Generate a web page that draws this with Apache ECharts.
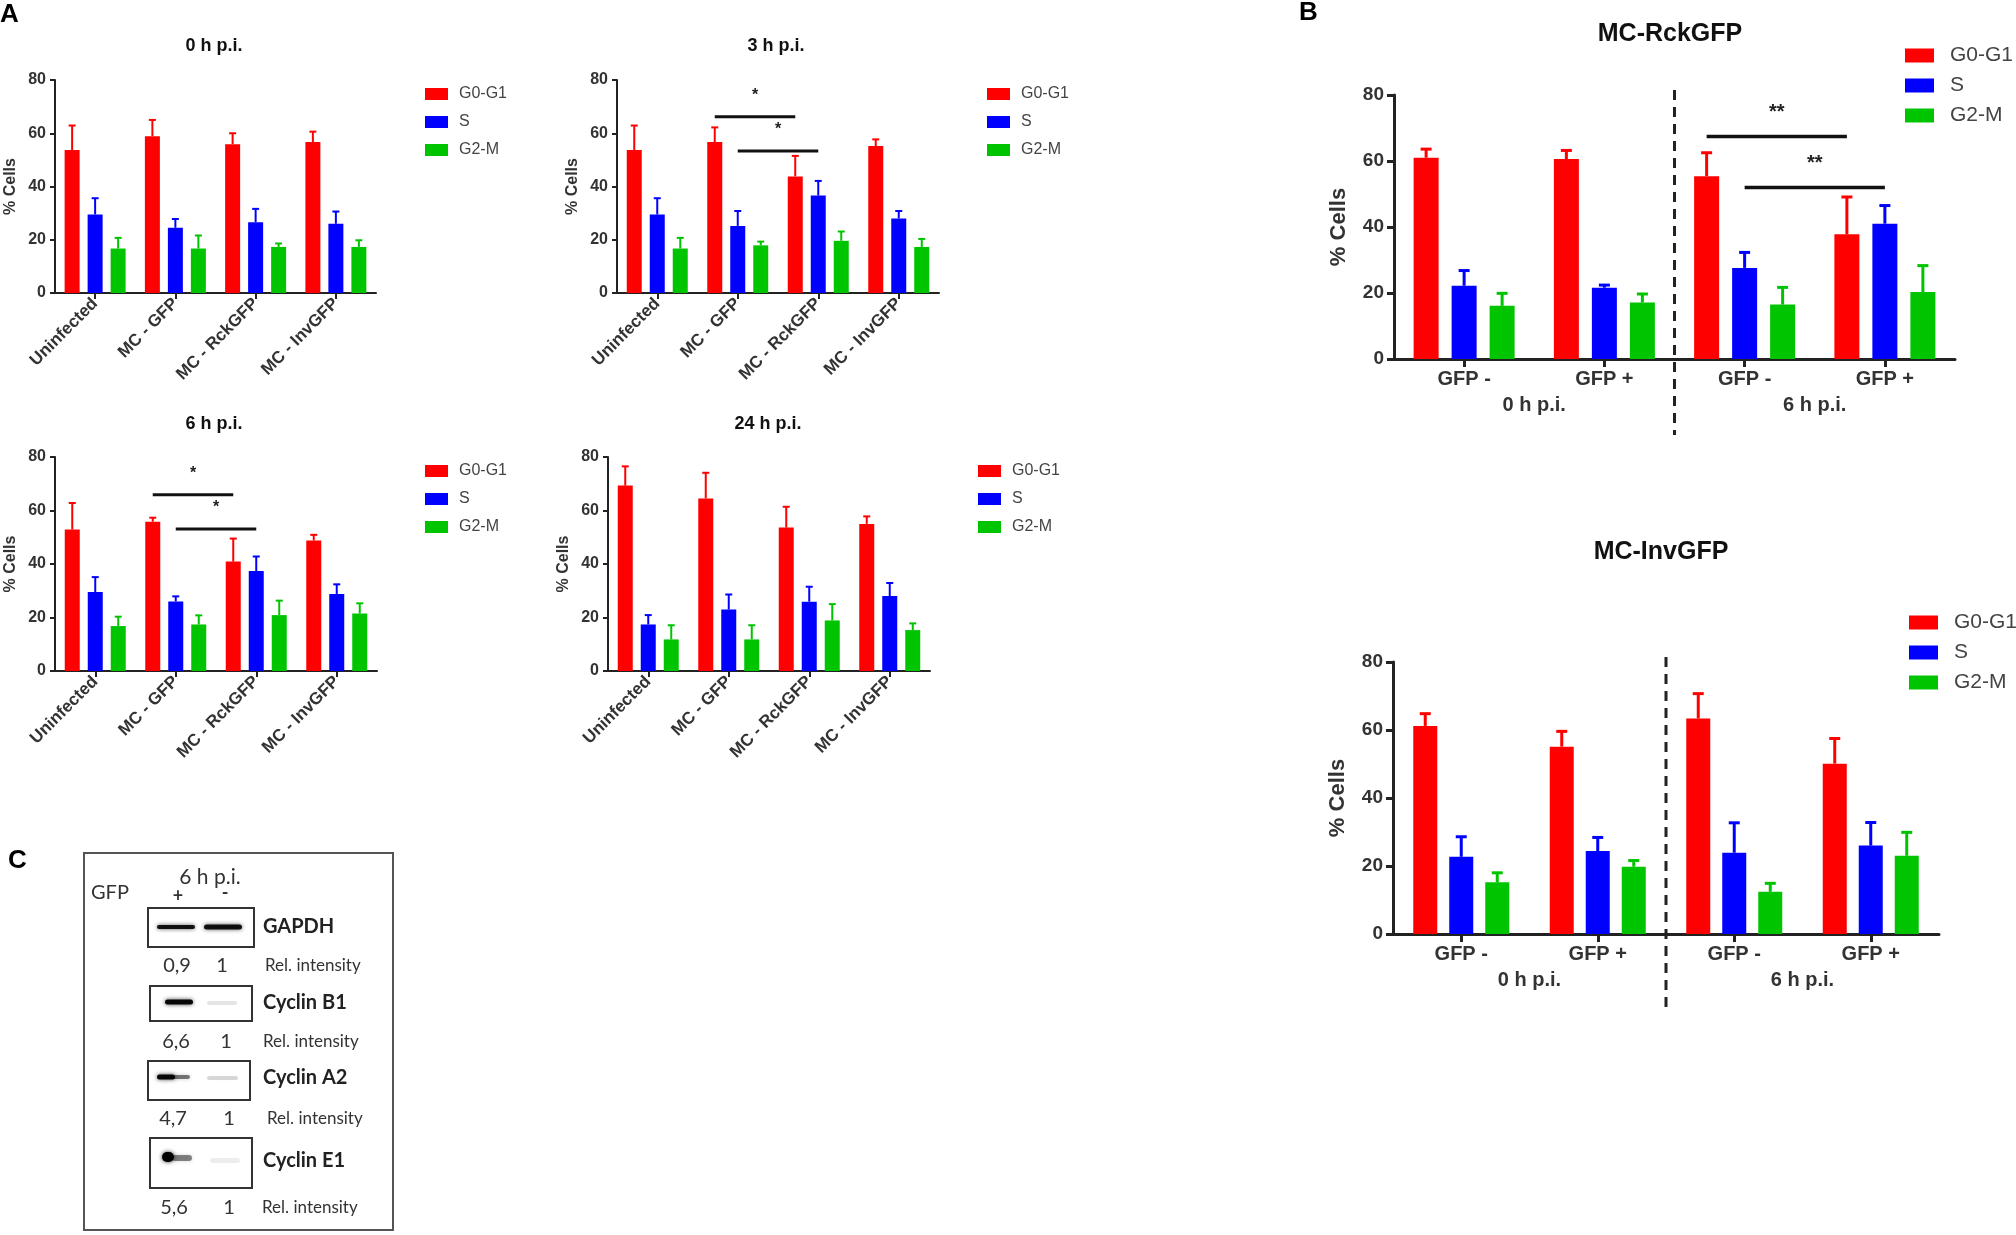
<!DOCTYPE html>
<html>
<head>
<meta charset="utf-8">
<script src="https://cdn.jsdelivr.net/npm/echarts@6/dist/echarts.min.js"></script>
<style>
html,body{margin:0;padding:0;background:#fff;}
#chart{width:2016px;height:1235px;}
</style>
</head>
<body>
<div id="chart"></div>
<script>
// ---------------- DATA ----------------
const phases = ['G0-G1', 'S', 'G2-M'];
const groupsA = ['Uninfected', 'MC - GFP', 'MC - RckGFP', 'MC - InvGFP'];
const groupsB = ['GFP -', 'GFP +', 'GFP -', 'GFP +'];
const timesB = ['0 h p.i.', '6 h p.i.'];
const yMin = 0, yMax = 80, yStep = 20;

// Panel A, 0 h p.i. (mean, SD)
const h0G0G1 = [53.7, 58.9, 55.9, 56.7];   const h0G0G1sd = [9.2, 6.1, 4.1, 3.9];
const h0S    = [29.5, 24.5, 26.6, 26.0];   const h0Ssd    = [6.1, 3.3, 5.0, 4.6];
const h0G2M  = [16.7, 16.7, 17.3, 17.3];   const h0G2Msd  = [4.0, 4.9, 1.3, 2.5];
// Panel A, 3 h p.i.
const h3G0G1 = [53.7, 56.7, 43.8, 55.2];   const h3G0G1sd = [9.2, 5.5, 7.7, 2.5];
const h3S    = [29.5, 25.2, 36.6, 28.0];   const h3Ssd    = [6.1, 5.6, 5.5, 2.8];
const h3G2M  = [16.7, 17.9, 19.6, 17.3];   const h3G2Msd  = [4.0, 1.4, 3.5, 3.0];
// Panel A, 6 h p.i.
const h6G0G1 = [52.9, 55.8, 40.9, 48.8];   const h6G0G1sd = [9.9, 1.5, 8.6, 2.1];
const h6S    = [29.5, 26.0, 37.4, 28.8];   const h6Ssd    = [5.6, 1.9, 5.4, 3.6];
const h6G2M  = [16.8, 17.4, 20.9, 21.5];   const h6G2Msd  = [3.5, 3.4, 5.4, 3.8];
// Panel A, 24 h p.i.
const h24G0G1 = [69.3, 64.5, 53.6, 55.0];  const h24G0G1sd = [7.2, 9.6, 7.8, 2.8];
const h24S    = [17.4, 23.0, 25.9, 28.0];  const h24Ssd    = [3.5, 5.6, 5.6, 4.9];
const h24G2M  = [11.8, 11.8, 18.9, 15.3];  const h24G2Msd  = [5.3, 5.3, 6.1, 2.5];
// Panel B, MC-RckGFP
const rckG0G1 = [61.0, 60.6, 55.4, 37.8];  const rckG0G1sd = [2.6, 2.6, 7.1, 11.3];
const rckS    = [22.2, 21.6, 27.6, 41.0];  const rckSsd    = [4.6, 0.8, 4.7, 5.5];
const rckG2M  = [16.1, 17.1, 16.5, 20.3];  const rckG2Msd  = [3.8, 2.6, 5.2, 8.0];
// Panel B, MC-InvGFP
const invG0G1 = [61.2, 55.1, 63.4, 50.1];  const invG0G1sd = [3.6, 4.5, 7.3, 7.4];
const invS    = [22.7, 24.4, 23.9, 26.0];  const invSsd    = [5.9, 4.0, 8.8, 6.8];
const invG2M  = [15.2, 19.8, 12.4, 23.0];  const invG2Msd  = [2.8, 1.8, 2.5, 6.9];

// Significance brackets: [fromGroup, toGroup, phaseIndex, yLevel]
const sig3h = [[1, 2, 0, 66.2], [1, 2, 1, 53.3]];   const sig3hLabels = ['*', '*'];
const sig6h = [[1, 2, 0, 65.9], [1, 2, 1, 53.1]];   const sig6hLabels = ['*', '*'];
const sigRck = [[2, 3, 0, 67.4], [2, 3, 1, 52.0]];  const sigRckLabels = ['**', '**'];
// Divider between group index 1 and 2 (0 h | 6 h)
const dividerB = [[1, 2]];

// Panel C (western blot)
const blotNames = ['GAPDH', 'Cyclin B1', 'Cyclin A2', 'Cyclin E1'];
const relPlus = ['0,9', '6,6', '4,7', '5,6'];
const relMinus = ['1', '1', '1', '1'];
const relText = 'Rel. intensity';

// ---------------- STYLE / LAYOUT ----------------
const FONT = '"Liberation Sans", Arial, sans-serif';
const CFONT = 'Lato, "Open Sans", sans-serif';
const COLORS = ['#ff0000', '#0000ff', '#00c400'];
const AX = '#222';
const TXT = '#333';

const styleA = {bw: 15, gap: 8, axisW: 2, tickLen: 6, tickFont: 16, catFont: 17, nameFont: 16, nameGap: 36,
  titleFont: 18, capW: 7, errW: 2, sigW: 3, starFont: 16, starGap: 21, legendFont: 16, legendW: 23, legendH: 12,
  legendGap: 12, legendPad: 6, yLabelMargin: 9, xLabelMargin: 8};
const styleB = {bw: 25, gap: 13, axisW: 3, tickLen: 8, tickFont: 19, catFont: 20, nameFont: 22, nameGap: 44,
  titleFont: 25, capW: 11, errW: 3, sigW: 3.5, starFont: 20, starGap: 24, legendFont: 21, legendW: 29, legendH: 14,
  legendGap: 9, legendPad: 11, yLabelMargin: 10, xLabelMargin: 10, groupMargin: 36, dividerDown: 76};

const panels = [
  {kind: 'A', title: '0 h p.i.', cats: groupsA,
   means: [h0G0G1, h0S, h0G2M], sds: [h0G0G1sd, h0Ssd, h0G2Msd], sig: [], sigLabels: [],
   grid: {left: 55, top: 80, width: 321, height: 213}, titlePos: [214, 37], legendPos: [425, 86]},
  {kind: 'A', title: '3 h p.i.', cats: groupsA,
   means: [h3G0G1, h3S, h3G2M], sds: [h3G0G1sd, h3Ssd, h3G2Msd], sig: sig3h, sigLabels: sig3hLabels,
   grid: {left: 617, top: 80, width: 322, height: 213}, titlePos: [776, 37], legendPos: [987, 86]},
  {kind: 'A', title: '6 h p.i.', cats: groupsA,
   means: [h6G0G1, h6S, h6G2M], sds: [h6G0G1sd, h6Ssd, h6G2Msd], sig: sig6h, sigLabels: sig6hLabels,
   grid: {left: 55, top: 457, width: 322, height: 214}, titlePos: [214, 415], legendPos: [425, 463]},
  {kind: 'A', title: '24 h p.i.', cats: groupsA,
   means: [h24G0G1, h24S, h24G2M], sds: [h24G0G1sd, h24Ssd, h24G2Msd], sig: [], sigLabels: [],
   grid: {left: 608, top: 457, width: 322, height: 214}, titlePos: [768, 415], legendPos: [978, 463]},
  {kind: 'B', title: 'MC-RckGFP', cats: groupsB,
   means: [rckG0G1, rckS, rckG2M], sds: [rckG0G1sd, rckSsd, rckG2Msd], sig: sigRck, sigLabels: sigRckLabels,
   grid: {left: 1394, top: 95, width: 561, height: 264}, titlePos: [1670, 22], legendPos: [1905, 45]},
  {kind: 'B', title: 'MC-InvGFP', cats: groupsB,
   means: [invG0G1, invS, invG2M], sds: [invG0G1sd, invSsd, invG2Msd], sig: [], sigLabels: [],
   grid: {left: 1393, top: 662, width: 546, height: 272}, titlePos: [1661, 540], legendPos: [1909, 612],
   override: {bw: 24, gap: 12}}
];

// ---------------- RENDERERS ----------------
function errRender(st) {
  return function (params, api) {
    const cat = api.value(0), k = api.value(1), m = api.value(2), t = api.value(3);
    const p = api.coord([cat, m]);
    const q = api.coord([cat, t]);
    const x = p[0] + (k - 1) * (st.bw + st.gap);
    const c = COLORS[k];
    return {type: 'group', children: [
      {type: 'line', shape: {x1: x, y1: p[1], x2: x, y2: q[1]}, style: {stroke: c, lineWidth: st.errW}},
      {type: 'line', shape: {x1: x - st.capW / 2, y1: q[1], x2: x + st.capW / 2, y2: q[1]}, style: {stroke: c, lineWidth: st.errW}}
    ]};
  };
}
function sigRender(st, labels) {
  return function (params, api) {
    const a = api.value(0), b = api.value(1), k = api.value(2), y = api.value(3);
    const off = (k - 1) * (st.bw + st.gap);
    const pa = api.coord([a, y]), pb = api.coord([b, y]);
    return {type: 'group', children: [
      {type: 'line', shape: {x1: pa[0] + off, y1: pa[1], x2: pb[0] + off, y2: pb[1]},
       style: {stroke: '#111', lineWidth: st.sigW}},
      {type: 'text', style: {text: labels[params.dataIndex], x: (pa[0] + pb[0]) / 2 + off, y: pa[1] - st.starGap,
        align: 'center', verticalAlign: 'middle', fontFamily: FONT, fontWeight: 'bold', fontSize: st.starFont, fill: '#222'}}
    ]};
  };
}
function dividerRender(st) {
  return function (params, api) {
    const a = api.value(0), b = api.value(1);
    const x = (api.coord([a, yMin])[0] + api.coord([b, yMin])[0]) / 2;
    const yTop = api.coord([a, yMax])[1] - 5;
    const yBot = api.coord([a, yMin])[1] + st.dividerDown;
    return {type: 'line', shape: {x1: x, y1: yTop, x2: x, y2: yBot},
      style: {stroke: AX, lineWidth: 3, lineDash: [10, 7]}};
  };
}

// ---------------- OPTION ----------------
const option = {
  animation: false,
  backgroundColor: '#fff',
  textStyle: {fontFamily: FONT},
  title: [
    {text: 'A', left: 0, top: 2, padding: 0, textStyle: {fontFamily: FONT, fontSize: 26, fontWeight: 'bold', color: '#000'}},
    {text: 'B', left: 1299, top: 0, padding: 0, textStyle: {fontFamily: FONT, fontSize: 26, fontWeight: 'bold', color: '#000'}},
    {text: 'C', left: 8, top: 848, padding: 0, textStyle: {fontFamily: FONT, fontSize: 26, fontWeight: 'bold', color: '#000'}}
  ],
  legend: [], grid: [], xAxis: [], yAxis: [], series: [], graphic: []
};

panels.forEach(function (p) {
  const st = Object.assign({}, p.kind === 'A' ? styleA : styleB, p.override || {});
  const gi = option.grid.length;
  option.grid.push(Object.assign({containLabel: false, outerBoundsMode: 'none'}, p.grid));
  const xi = option.xAxis.length;
  option.xAxis.push({
    type: 'category', gridIndex: gi, data: p.cats, position: 'bottom',
    axisLine: {show: true, lineStyle: {color: AX, width: st.axisW}},
    axisTick: {show: true, alignWithLabel: true, length: st.tickLen, lineStyle: {color: AX, width: st.axisW}},
    axisLabel: p.kind === 'A'
      ? {interval: 0, rotate: 45, margin: st.xLabelMargin, fontFamily: FONT, fontWeight: 'bold', fontSize: st.catFont, color: TXT}
      : {interval: 0, margin: st.xLabelMargin, fontFamily: FONT, fontWeight: 'bold', fontSize: st.catFont, color: TXT},
    splitLine: {show: false}
  });
  if (p.kind === 'B') {
    option.xAxis.push({
      type: 'category', gridIndex: gi, data: timesB, position: 'bottom',
      axisLine: {show: false}, axisTick: {show: false}, splitLine: {show: false},
      axisLabel: {interval: 0, margin: st.groupMargin, fontFamily: FONT, fontWeight: 'bold', fontSize: st.catFont, color: TXT}
    });
  }
  const yi = option.yAxis.length;
  option.yAxis.push({
    type: 'value', gridIndex: gi, min: yMin, max: yMax, interval: yStep,
    name: '% Cells', nameLocation: 'middle', nameGap: st.nameGap, nameRotate: 90,
    nameTextStyle: {fontFamily: FONT, fontWeight: 'bold', fontSize: st.nameFont, color: TXT},
    axisLine: {show: true, lineStyle: {color: AX, width: st.axisW}},
    axisTick: {show: true, length: st.tickLen - 1, lineStyle: {color: AX, width: st.axisW}},
    axisLabel: {margin: st.yLabelMargin, fontFamily: FONT, fontWeight: 'bold', fontSize: st.tickFont, color: TXT},
    splitLine: {show: false}
  });
  phases.forEach(function (ph, k) {
    option.series.push({
      type: 'bar', name: ph, xAxisIndex: xi, yAxisIndex: yi, data: p.means[k],
      barWidth: st.bw, barGap: (st.gap / st.bw * 100).toFixed(1) + '%',
      itemStyle: {color: COLORS[k]}, silent: true
    });
  });
  const errRows = [];
  p.means.forEach(function (arr, k) {
    arr.forEach(function (m, i) { errRows.push([i, k, m, +(m + p.sds[k][i]).toFixed(2)]); });
  });
  option.series.push({type: 'custom', name: 'SD', xAxisIndex: xi, yAxisIndex: yi, data: errRows,
    encode: {x: 0, y: 3}, renderItem: errRender(st), z: 4, silent: true, clip: false});
  if (p.sig.length) {
    option.series.push({type: 'custom', name: 'significance', xAxisIndex: xi, yAxisIndex: yi, data: p.sig,
      encode: {x: 0, y: 3}, renderItem: sigRender(st, p.sigLabels), z: 5, silent: true, clip: false});
  }
  if (p.kind === 'B') {
    option.series.push({type: 'custom', name: 'divider', xAxisIndex: xi, yAxisIndex: yi, data: dividerB,
      encode: {x: 0}, renderItem: dividerRender(st), z: 5, silent: true, clip: false});
  }
  option.title.push({text: p.title, left: p.titlePos[0], top: p.titlePos[1], textAlign: 'center', padding: 0,
    textStyle: {fontFamily: FONT, fontWeight: 'bold', fontSize: st.titleFont, color: '#111'}});
  option.legend.push({
    data: phases, orient: 'vertical', left: p.legendPos[0], top: p.legendPos[1], padding: 0,
    itemWidth: st.legendW, itemHeight: st.legendH, itemGap: st.legendGap, icon: 'rect', selectedMode: false,
    textStyle: {fontFamily: FONT, fontSize: st.legendFont, color: '#444', padding: [0, 0, 0, st.legendPad]}
  });
});

// ---------------- PANEL C (blot) ----------------
const blotLayout = [
  {box: [148, 908, 106, 39], labelY: 927, numY: 966, numX: [177, 222], relX: 265,
   bands: [{x: 157, y: 925, w: 38, h: 4, o: 0.9}, {x: 204, y: 924.5, w: 38, h: 5, o: 0.9}]},
  {box: [150, 986, 102, 35], labelY: 1003, numY: 1042, numX: [176, 226], relX: 263,
   bands: [{x: 165, y: 999.5, w: 28, h: 5, o: 0.95}, {x: 207, y: 1001, w: 30, h: 4, o: 0.1}]},
  {box: [148, 1061, 102, 39], labelY: 1078, numY: 1119, numX: [173, 229], relX: 267,
   bands: [{x: 157, y: 1074.5, w: 18, h: 5, o: 0.95}, {x: 172, y: 1075, w: 18, h: 4, o: 0.5}, {x: 207, y: 1076, w: 31, h: 4, o: 0.15}]},
  {box: [150, 1138, 102, 50], labelY: 1161, numY: 1208, numX: [174, 229], relX: 262,
   bands: [{x: 162, y: 1152, w: 12, h: 10, o: 1}, {x: 172, y: 1155, w: 20, h: 6, o: 0.45}, {x: 210, y: 1158, w: 30, h: 5, o: 0.07}]}
];
const g = option.graphic;
g.push({type: 'rect', shape: {x: 84, y: 853, width: 309, height: 377}, style: {fill: 'none', stroke: '#555', lineWidth: 2}, silent: true});
g.push({type: 'text', style: {text: '6 h p.i.', x: 210, y: 877, align: 'center', verticalAlign: 'middle', font: '21px ' + CFONT, fill: TXT}, silent: true});
g.push({type: 'text', style: {text: 'GFP', x: 91, y: 893, align: 'left', verticalAlign: 'middle', font: '20px ' + CFONT, fill: TXT}, silent: true});
g.push({type: 'text', style: {text: '+', x: 178, y: 896, align: 'center', verticalAlign: 'middle', font: 'bold 18px ' + CFONT, fill: TXT}, silent: true});
g.push({type: 'text', style: {text: '-', x: 225, y: 893, align: 'center', verticalAlign: 'middle', font: 'bold 18px ' + CFONT, fill: TXT}, silent: true});
blotNames.forEach(function (name, i) {
  const L = blotLayout[i];
  g.push({type: 'rect', shape: {x: L.box[0], y: L.box[1], width: L.box[2], height: L.box[3]},
    style: {fill: '#fff', stroke: '#333', lineWidth: 2}, silent: true});
  L.bands.forEach(function (b) {
    g.push({type: 'rect', shape: {x: b.x, y: b.y, width: b.w, height: b.h, r: b.h / 2},
      style: {fill: 'rgba(0,0,0,' + b.o + ')', shadowBlur: 4, shadowColor: 'rgba(0,0,0,' + (b.o * 0.8) + ')'}, silent: true});
  });
  g.push({type: 'text', style: {text: name, x: 263, y: L.labelY, align: 'left', verticalAlign: 'middle', font: 'bold 20px ' + CFONT, fill: '#222'}, silent: true});
  g.push({type: 'text', style: {text: relPlus[i], x: L.numX[0], y: L.numY, align: 'center', verticalAlign: 'middle', font: '20px ' + CFONT, fill: TXT}, silent: true});
  g.push({type: 'text', style: {text: relMinus[i], x: L.numX[1], y: L.numY, align: 'center', verticalAlign: 'middle', font: '20px ' + CFONT, fill: TXT}, silent: true});
  g.push({type: 'text', style: {text: relText, x: L.relX, y: L.numY, align: 'left', verticalAlign: 'middle', font: '17px ' + CFONT, fill: TXT}, silent: true});
});

const chart = echarts.init(document.getElementById('chart'), null, {renderer: 'canvas'});
chart.setOption(option);
</script>
</body>
</html>
